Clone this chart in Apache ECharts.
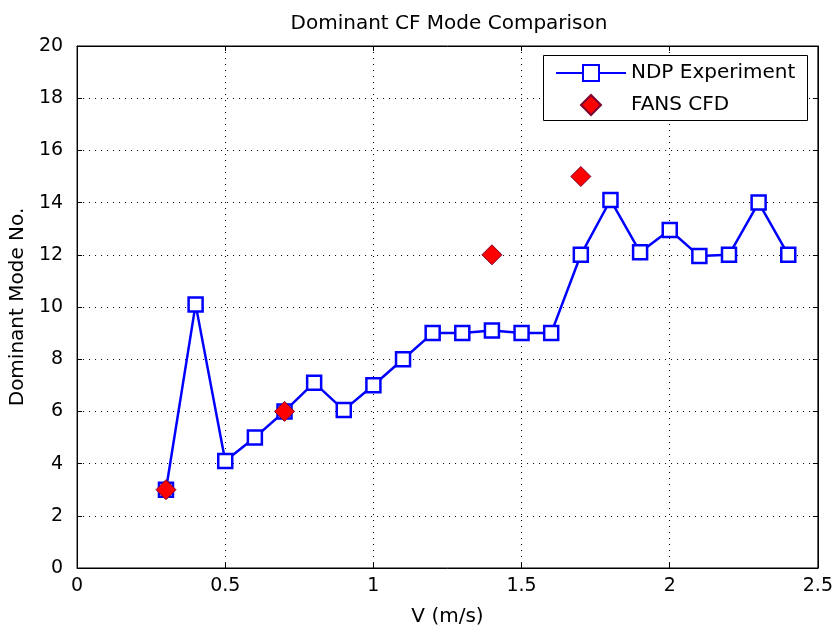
<!DOCTYPE html>
<html><head><meta charset="utf-8">
<script src="https://cdn.jsdelivr.net/npm/echarts@6/dist/echarts.min.js"></script>
<style>html,body{margin:0;padding:0;background:#fff}#c{width:836px;height:632px}</style>
</head><body><div id="c"></div>
<script>
var ndpV = [0.3,0.4,0.5,0.6,0.7,0.8,0.9,1.0,1.1,1.2,1.3,1.4,1.5,1.6,1.7,1.8,1.9,2.0,2.1,2.2,2.3,2.4];
var ndpMode = [3,10.1,4.1,5,6,7.1,6.05,7,8,9,9,9.1,9,9,12,14.1,12.1,12.95,11.95,12,14,12];
var cfdV = [0.3,0.7,1.4,1.7];
var cfdMode = [3,6,12,15];
var xTicks = ['0','0.5','1','1.5','2','2.5'];
var yTicks = ['0','2','4','6','8','10','12','14','16','18','20'];

var FONT = 'DejaVu Sans, sans-serif';
function pairs(xs, ys){ return xs.map(function(x,i){ return [x, ys[i]]; }); }
var dotted = {show:true, lineStyle:{color:'#000', type:[1,5], width:1}};
var DIAMOND = 'path://M0,-1L1,0L0,1L-1,0Z';
var chart = echarts.init(document.getElementById('c'));
chart.setOption({
  animation:false,
  title:{text:'Dominant CF Mode Comparison', left:444, textAlign:'center', top:9,
    textStyle:{fontFamily:FONT, fontSize:20, fontWeight:'normal', color:'#000'}},
  grid:{left:76, right:18, top:46, bottom:63, show:true, borderColor:'#000', borderWidth:1, backgroundColor:'#fff'},
  graphic:[{type:'rect', left:543, top:55, z:100, zlevel:0,
    shape:{width:264, height:65}, style:{fill:'#fff', stroke:'#000', lineWidth:1}}],
  legend:{orient:'vertical', left:555, top:63, padding:0, itemGap:11, z:200,
    itemWidth:70, itemHeight:20, symbolKeepAspect:true,
    textStyle:{fontFamily:FONT, fontSize:20, color:'#000'},
    data:[{name:'NDP Experiment'},{name:'FANS CFD', icon:DIAMOND}]},
  xAxis:[{type:'value', min:0, max:2.5, interval:0.5, position:'bottom',
    name:'V (m/s)', nameLocation:'middle', nameGap:39,
    nameTextStyle:{fontFamily:FONT, fontSize:20, color:'#000'},
    axisLine:{show:true, onZero:false, lineStyle:{color:'#000'}},
    axisTick:{show:true, inside:true, length:5, lineStyle:{color:'#000'}},
    axisLabel:{fontFamily:FONT, fontSize:19, color:'#000', margin:9,
      formatter:function(v){ var i = Math.round(v/0.5); return xTicks[i]; }},
    splitLine:dotted},
   {type:'value', min:0, max:2.5, interval:0.5, position:'top',
    axisLine:{show:true, onZero:false, lineStyle:{color:'#000'}},
    axisTick:{show:true, inside:true, length:5, lineStyle:{color:'#000'}},
    axisLabel:{show:false}, splitLine:{show:false}}],
  yAxis:[{type:'value', min:0, max:20, interval:2, position:'left',
    name:'Dominant Mode No.', nameLocation:'middle', nameGap:42, nameRotate:90,
    nameTextStyle:{fontFamily:FONT, fontSize:20, color:'#000'},
    axisLine:{show:true, onZero:false, lineStyle:{color:'#000'}},
    axisTick:{show:true, inside:true, length:5, lineStyle:{color:'#000'}},
    axisLabel:{fontFamily:FONT, fontSize:19, color:'#000', margin:14,
      formatter:function(v){ return yTicks[Math.round(v/2)]; }},
    splitLine:dotted},
   {type:'value', min:0, max:20, interval:2, position:'right',
    axisLine:{show:true, onZero:false, lineStyle:{color:'#000'}},
    axisTick:{show:true, inside:true, length:5, lineStyle:{color:'#000'}},
    axisLabel:{show:false}, splitLine:{show:false}}],
  series:[
    {name:'NDP Experiment', type:'line', data:pairs(ndpV, ndpMode),
      symbol:'rect', symbolSize:14, showAllSymbol:true,
      lineStyle:{color:'#0000ff', width:2.5},
      itemStyle:{color:'#fff', borderColor:'#0000ff', borderWidth:2.5}, z:2},
    {name:'FANS CFD', type:'scatter', data:pairs(cfdV, cfdMode),
      symbol:'diamond', symbolSize:20,
      itemStyle:{color:'#ff0000', borderColor:'#7a0030', borderWidth:1, opacity:1}, z:3}
  ]
});
</script></body></html>
